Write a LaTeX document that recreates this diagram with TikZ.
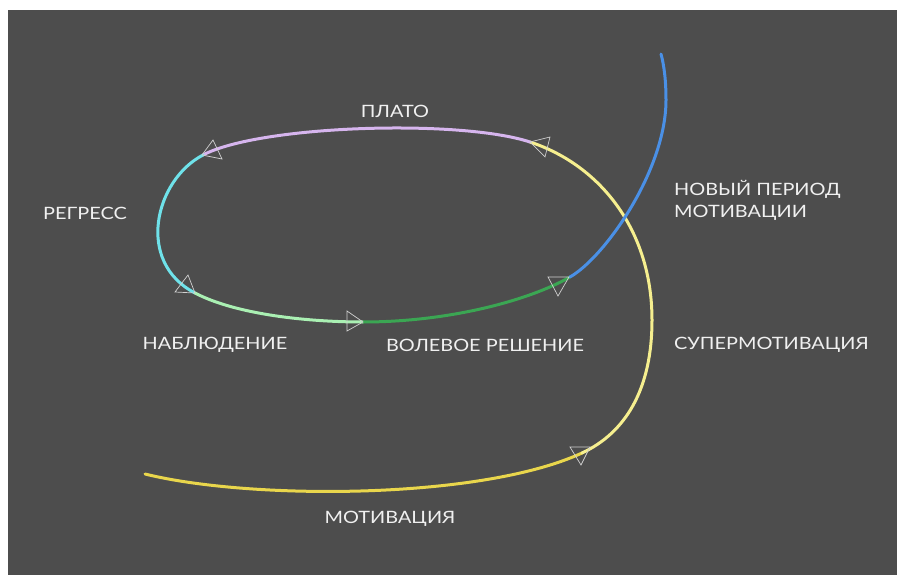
\documentclass[tikz,border=0pt]{standalone}
\usepackage{fontspec}
\setmainfont{Lato}[FakeStretch=1.17]
\begin{document}
\begin{tikzpicture}[x=1pt,y=-1pt,
  lbl/.style={text=white!94!black,inner sep=0pt,font=\fontsize{17}{19}\selectfont},
  crv/.style={line width=3pt,line cap=round},
  tri/.style={draw=white!82!black,line width=0.7pt,line join=miter}]
\definecolor{bg}{HTML}{4D4D4D}
\definecolor{cMot}{HTML}{E9D64C}
\definecolor{cSup}{HTML}{F6EF8F}
\definecolor{cPla}{HTML}{D6B5EE}
\definecolor{cReg}{HTML}{6FE2EA}
\definecolor{cNab}{HTML}{AAF0B3}
\definecolor{cVol}{HTML}{3BA653}
\definecolor{cNov}{HTML}{4A90E6}
\useasboundingbox (0,0) rectangle (897,575);
\fill[white] (0,0) rectangle (897,575);
\fill[bg] (8,10) rectangle (897,575);
% junction coordinates
\coordinate (A) at (145,474);
\coordinate (B) at (582,453);
\coordinate (D) at (652,320);
\coordinate (C) at (530,142);
\coordinate (E) at (203,155);
\coordinate (F) at (195,293);
\coordinate (G) at (363,322);
\coordinate (H) at (570,277);
\coordinate (I) at (666,100);
\coordinate (J) at (661,54);
% curves
\draw[crv,cMot] (A) .. controls (250,500) and (480,500) .. (B);
\draw[crv,cSup] (B) .. controls (625,433) and (652,390) .. (D)
                    .. controls (652,230) and (600,165) .. (C);
\draw[crv,cPla] (C) .. controls (460,119) and (260,125) .. (E);
\draw[crv,cReg] (E) .. controls (155,180) and (135,262) .. (F);
\draw[crv,cNab] (F) .. controls (237,315) and (310,322) .. (G);
\draw[crv,cVol] (G) .. controls (450,322) and (530,300) .. (H);
\draw[crv,cNov] (H) .. controls (605,257) and (666,170) .. (I)
                    .. controls (666,80) and (664,65) .. (J);
% arrowheads
\draw[tri] (213,140) -- (202,155) -- (222,159) -- cycle;
\draw[tri] (188,275) -- (175,292) -- (195,293) -- cycle;
\draw[tri] (347,311) -- (347,331) -- (363,322) -- cycle;
\draw[tri] (530,142) -- (550,137) -- (545,157) -- cycle;
\draw[tri] (548,277) -- (569,277) -- (558,296) -- cycle;
\draw[tri] (570,447) -- (590,447) -- (581,465) -- cycle;
% labels
\node[lbl] (plato) at (395,111) {ПЛАТО};
\node[lbl] (regr) at (85,213) {РЕГРЕСС};
\node[lbl,anchor=west] (nov1) at (674,189) {НОВЫЙ ПЕРИОД};
\node[lbl,anchor=west] (nov2) at (674,213) {МОТИВАЦИИ};
\node[lbl] (nabl) at (215,345) {НАБЛЮДЕНИЕ};
\node[lbl] (vol) at (485,345) {ВОЛЕВОЕ РЕШЕНИЕ};
\node[lbl,anchor=west] (sup) at (674,345) {СУПЕРМОТИВАЦИЯ};
\node[lbl] (mot) at (390,519) {МОТИВАЦИЯ};
\end{tikzpicture}
\end{document}
